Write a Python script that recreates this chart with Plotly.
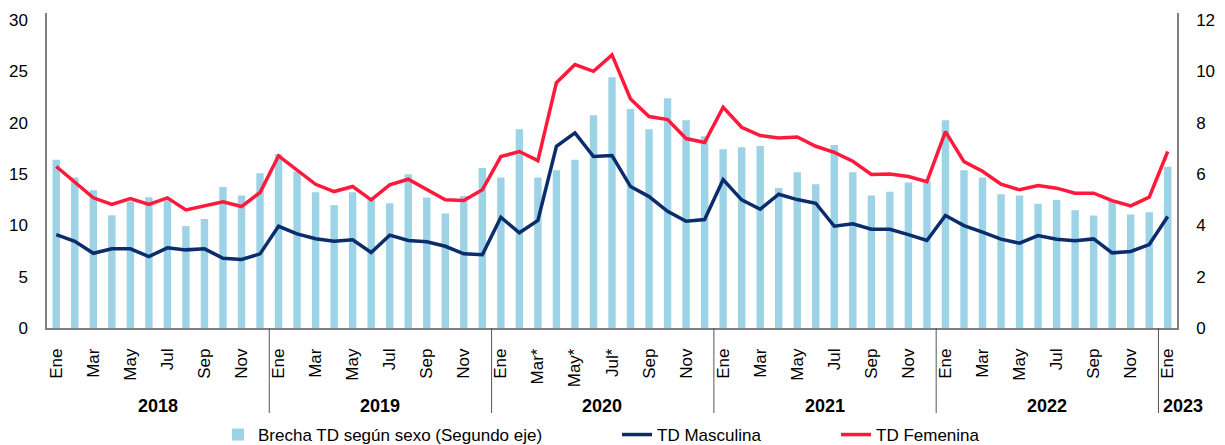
import plotly.graph_objects as go

month_names = ["Ene", "Feb", "Mar", "Abr", "May", "Jun", "Jul", "Ago", "Sep", "Oct", "Nov", "Dic"]
years = ["2018", "2019", "2020", "2021", "2022", "2023"]

# index 0 = Ene 2018 ... index 60 = Ene 2023
brecha = [6.56, 5.86, 5.37, 4.39, 4.93, 5.09, 4.98, 3.97, 4.25, 5.49, 5.16, 6.03,
          6.77, 6.10, 5.29, 4.79, 5.29, 5.01, 4.86, 5.99, 5.08, 4.46, 5.14, 6.23,
          5.86, 7.74, 5.86, 6.15, 6.56, 8.29, 9.77, 8.53, 7.74, 8.95, 8.09, 7.47,
          6.96, 7.04, 7.09, 5.45, 6.07, 5.60, 7.13, 6.07, 5.16, 5.31, 5.67, 5.74,
          8.09, 6.15, 5.86, 5.21, 5.16, 4.84, 4.99, 4.59, 4.38, 4.98, 4.42, 4.51,
          6.28]
td_fem = [15.73, 14.2, 12.68, 12.03, 12.6, 12.03, 12.68, 11.5, 11.93, 12.3, 11.83, 13.2,
          16.77, 15.34, 14.0, 13.29, 13.78, 12.48, 13.94, 14.49, 13.49, 12.48, 12.41, 13.46,
          16.7, 17.19, 16.3, 23.9, 25.66, 25.0, 26.6, 22.3, 20.6, 20.3, 18.45, 18.06,
          21.5, 19.55, 18.74, 18.5, 18.6, 17.7, 17.1, 16.24, 14.95, 15.0, 14.75, 14.26,
          19.13, 16.21, 15.27, 14.0, 13.46, 13.88, 13.62, 13.13, 13.13, 12.41, 11.9, 12.74,
          17.19]
td_masc = [9.1, 8.45, 7.28, 7.71, 7.71, 6.96, 7.81, 7.61, 7.71, 6.8, 6.67, 7.22,
           9.91, 9.17, 8.7, 8.45, 8.59, 7.35, 9.04, 8.52, 8.39, 7.96, 7.22, 7.13,
           10.79, 9.27, 10.47, 17.7, 19.0, 16.7, 16.8, 13.78, 12.8, 11.37, 10.4, 10.56,
           14.46, 12.48, 11.57, 13.03, 12.51, 12.15, 9.91, 10.15, 9.62, 9.62, 9.1, 8.52,
           10.95, 9.98, 9.33, 8.65, 8.26, 9.0, 8.65, 8.49, 8.68, 7.32, 7.45, 8.13,
           10.86]

n = len(td_fem)
xs = list(range(n))
tick_idx = list(range(0, n, 2))
starred = {26, 28, 30}
tick_text = [month_names[i % 12] + ("*" if i in starred else "") for i in tick_idx]

FONT = "Liberation Sans, Arial, sans-serif"
C_BAR = "#9DD3E6"
C_MASC = "#0B2D6C"
C_FEM = "#FF1A3C"
AX = "#7F7F7F"

fig = go.Figure()
fig.add_trace(go.Bar(x=xs, y=brecha, name="Brecha TD según sexo (Segundo eje)",
                     marker=dict(color=C_BAR, line=dict(width=0)),
                     yaxis="y", legend="legend", showlegend=True))
fig.add_trace(go.Scatter(x=xs, y=td_masc, name="TD Masculina", mode="lines",
                         line=dict(color=C_MASC, width=3.5), yaxis="y2", legend="legend2",
                         showlegend=True))
fig.add_trace(go.Scatter(x=xs, y=td_fem, name="TD Femenina", mode="lines",
                         line=dict(color=C_FEM, width=3.5), yaxis="y2", legend="legend3",
                         showlegend=True))

L, R, T, B = 47, 1177, 13, 328
W_PLOT = float(R - L)
H_PLOT = float(B - T)

def py(px):
    return -(px - B) / H_PLOT

def pxx(px):
    return (px - L) / W_PLOT

shapes = []
for b in [11.5, 23.5, 35.5, 47.5, 59.5]:
    shapes.append(dict(type="line", xref="x", yref="paper", x0=b, x1=b, y0=0, y1=py(413),
                       line=dict(color="#555555", width=1)))

annotations = []
year_centers_px = [158, 380, 602, 825, 1047, 1183]
for yr, c in zip(years, year_centers_px):
    annotations.append(dict(x=pxx(c), y=py(406), xref="paper", yref="paper",
                            text="<b>%s</b>" % yr, showarrow=False,
                            font=dict(family=FONT, size=18, color="black"),
                            xanchor="center", yanchor="middle"))

def leg(xpx):
    return dict(x=pxx(xpx), y=py(435), xanchor="left", yanchor="middle",
                orientation="h", bgcolor="rgba(0,0,0,0)", visible=True,
                font=dict(family=FONT, size=17, color="black"))

fig.update_layout(
    width=1225, height=445, autosize=False,
    margin=dict(l=L, r=1225 - R, t=T, b=445 - B, autoexpand=False),
    paper_bgcolor="white", plot_bgcolor="white",
    font=dict(family=FONT, size=17, color="black"),
    showlegend=True,
    bargap=0.6,
    xaxis=dict(range=[-0.5, n - 0.5], tickmode="array", tickvals=tick_idx, ticktext=tick_text,
               tickangle=-90, showgrid=False, zeroline=False, showline=True,
               linecolor=AX, linewidth=1.5, ticks="", ticklabelstandoff=12,
               tickfont=dict(family=FONT, size=17, color="black")),
    yaxis=dict(side="right", range=[0, 12 * 315 / 308], tickmode="array",
               tickvals=[0, 2, 4, 6, 8, 10, 12], showgrid=False, zeroline=False,
               showline=True, linecolor=AX, linewidth=1.5, ticks="", ticklabelstandoff=14,
               tickfont=dict(family=FONT, size=17, color="black")),
    yaxis2=dict(side="left", overlaying="y", range=[0, 30 * 315 / 308], tickmode="array",
                tickvals=[0, 5, 10, 15, 20, 25, 30], showgrid=False, zeroline=False,
                showline=True, linecolor=AX, linewidth=1.5, ticks="", ticklabelstandoff=14,
                tickfont=dict(family=FONT, size=17, color="black")),
    legend=leg(218),
    legend2=leg(617),
    legend3=leg(836),
    shapes=shapes,
    annotations=annotations,
)

fig.write_html("out.html", config={"displayModeBar": False},
               post_script="document.body.style.margin='0';document.body.style.overflow='hidden';")
